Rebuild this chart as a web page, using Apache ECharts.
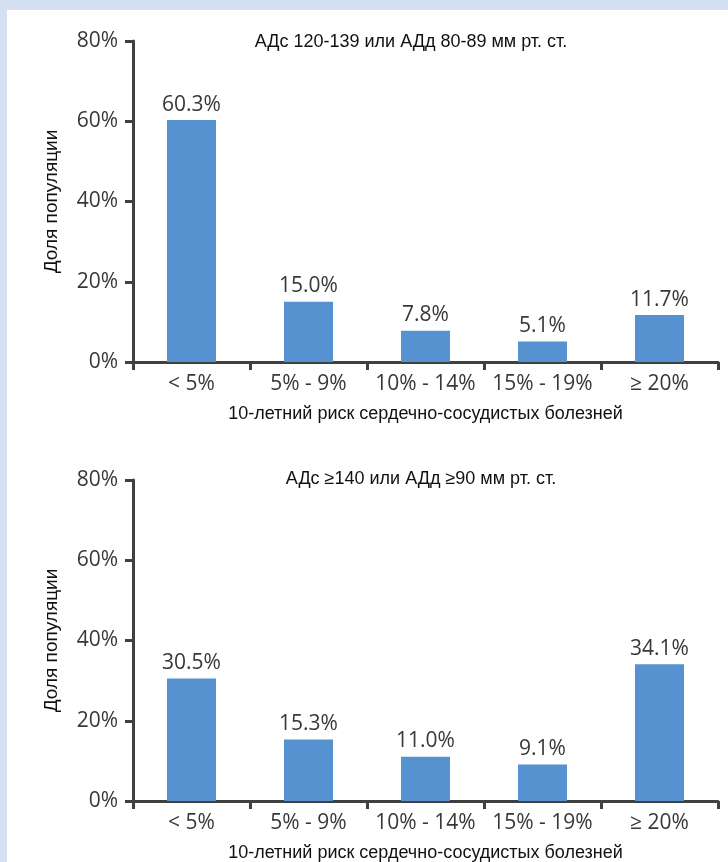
<!DOCTYPE html>
<html>
<head>
<meta charset="utf-8">
<script src="https://cdn.jsdelivr.net/npm/echarts@6/dist/echarts.min.js"></script>
<style>
  html, body { margin: 0; padding: 0; background: #d5e1f2; }
  #panel { position: absolute; left: 7px; top: 10px; width: 721px; height: 852px; background: #ffffff; }
  #chart { position: absolute; left: 0; top: 0; width: 728px; height: 862px; }
</style>
</head>
<body>
<div id="panel"></div>
<div id="chart"></div>
<script>
// Risk bands of 10-year cardiovascular risk
const categories = ['< 5%', '5% - 9%', '10% - 14%', '15% - 19%', '≥ 20%'];
// Share of population (%) for high-normal blood pressure
const highNormalShare = [60.3, 15.0, 7.8, 5.1, 11.7];
// Share of population (%) for hypertension
const hypertensionShare = [30.5, 15.3, 11.0, 9.1, 34.1];
const yTicks = [0, 20, 40, 60, 80];

const titleTop = 'АДс 120-139 или АДд 80-89 мм рт. ст.';
const titleBottom = 'АДс ≥140 или АДд ≥90 мм рт. ст.';
const xName = '10-летний риск сердечно-сосудистых болезней';
const yName = 'Доля популяции';

const tickFont = '"Open Sans", "Noto Sans", sans-serif';
const textFont = '"Liberation Sans", Arial, sans-serif';
const axisColor = '#404040';
const labelColor = '#383838';
const barColor = '#5592cf';

function xAxisFor(gridIndex) {
  return {
    type: 'category',
    gridIndex: gridIndex,
    data: categories,
    axisLine: { show: true, lineStyle: { color: axisColor, width: 3 } },
    axisTick: { show: true, length: 8, lineStyle: { color: axisColor, width: 3 } },
    axisLabel: { interval: 0, color: labelColor, fontFamily: tickFont, fontSize: 21, margin: 12 },
    name: xName,
    nameLocation: 'middle',
    nameGap: 43,
    nameTextStyle: { color: '#111111', fontFamily: textFont, fontSize: 18 }
  };
}

function yAxisFor(gridIndex) {
  return {
    type: 'value',
    gridIndex: gridIndex,
    min: yTicks[0],
    max: yTicks[yTicks.length - 1],
    interval: yTicks[1] - yTicks[0],
    splitLine: { show: false },
    axisLine: { show: true, lineStyle: { color: axisColor, width: 3 } },
    axisTick: { show: true, length: 8, lineStyle: { color: axisColor, width: 3 } },
    axisLabel: { color: labelColor, fontFamily: tickFont, fontSize: 21, margin: 15, formatter: '{value}%' },
    name: yName,
    nameLocation: 'middle',
    nameGap: 72,
    nameRotate: 90,
    nameTextStyle: { color: '#111111', fontFamily: textFont, fontSize: 19 }
  };
}

function barSeries(index, values) {
  return {
    type: 'bar',
    xAxisIndex: index,
    yAxisIndex: index,
    data: values,
    barWidth: 49,
    itemStyle: { color: barColor },
    label: {
      show: true,
      position: 'top',
      distance: 5,
      color: labelColor,
      fontFamily: tickFont,
      fontSize: 21,
      formatter: p => p.value.toFixed(1) + '%'
    }
  };
}

const chart = echarts.init(document.getElementById('chart'), null, { renderer: 'canvas' });
chart.setOption({
  animation: false,
  backgroundColor: 'transparent',
  title: [
    { text: titleTop, left: 406, top: 28, textAlign: 'center',
      textStyle: { color: '#111111', fontFamily: textFont, fontSize: 18, fontWeight: 'normal' } },
    { text: titleBottom, left: 416, top: 465, textAlign: 'center',
      textStyle: { color: '#111111', fontFamily: textFont, fontSize: 18, fontWeight: 'normal' } }
  ],
  grid: [
    { left: 133, top: 41, width: 585, height: 321, outerBoundsMode: 'none' },
    { left: 133, top: 480, width: 585, height: 321, outerBoundsMode: 'none' }
  ],
  xAxis: [xAxisFor(0), xAxisFor(1)],
  yAxis: [yAxisFor(0), yAxisFor(1)],
  series: [barSeries(0, highNormalShare), barSeries(1, hypertensionShare)]
});
</script>
</body>
</html>
